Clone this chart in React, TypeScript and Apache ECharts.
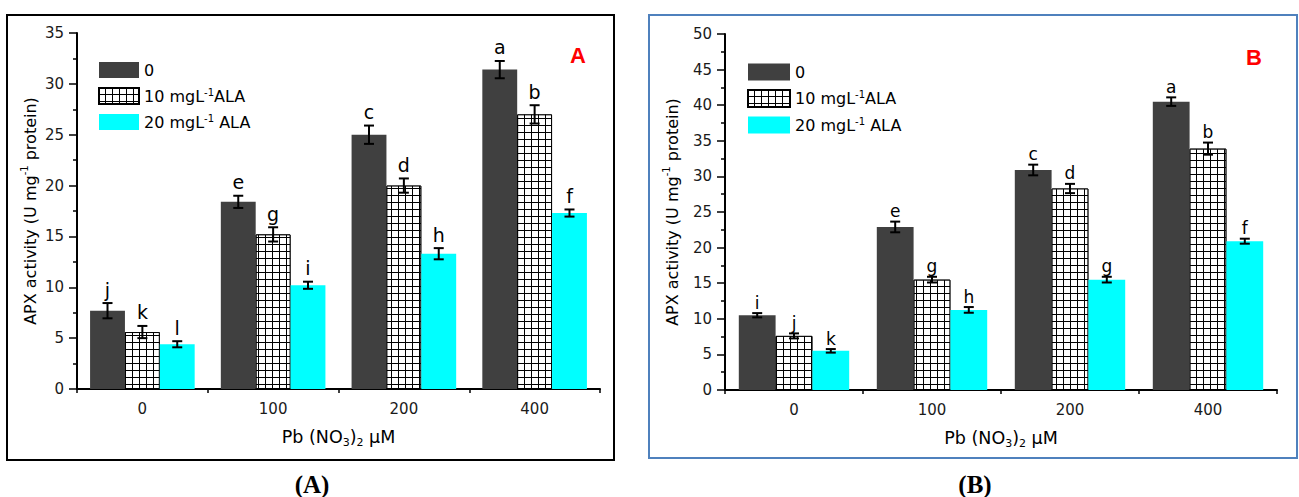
import React, { useEffect, useRef } from 'react';
import * as echarts from 'echarts';

// ---------- data ----------
const categories = ['0', '100', '200', '400'];
const seriesNames = ['0', '10 mgL-1ALA', '20 mgL-1 ALA'];
const legendLabels = ['0', '10 mgL{sup|-1}ALA', '20 mgL{sup|-1} ALA'];

// Panel A
const aControl = [7.7, 18.4, 25.0, 31.4];
const aControlErr = [0.75, 0.6, 0.9, 0.85];
const aControlLetters = ['j', 'e', 'c', 'a'];
const aAla10 = [5.6, 15.2, 20.0, 27.0];
const aAla10Err = [0.6, 0.7, 0.7, 0.9];
const aAla10Letters = ['k', 'g', 'd', 'b'];
const aAla20 = [4.4, 10.2, 13.3, 17.3];
const aAla20Err = [0.3, 0.35, 0.55, 0.35];
const aAla20Letters = ['l', 'i', 'h', 'f'];

// Panel B
const bControl = [10.5, 22.9, 30.9, 40.5];
const bControlErr = [0.3, 0.75, 0.75, 0.6];
const bControlLetters = ['i', 'e', 'c', 'a'];
const bAla10 = [7.6, 15.5, 28.3, 33.9];
const bAla10Err = [0.35, 0.4, 0.65, 0.85];
const bAla10Letters = ['j', 'g', 'd', 'b'];
const bAla20 = [5.5, 11.25, 15.5, 20.9];
const bAla20Err = [0.25, 0.4, 0.4, 0.35];
const bAla20Letters = ['k', 'h', 'g', 'f'];

const yTitle = 'APX activity (U mg{sup|-1} protein)';
const xTitle = 'Pb (NO{sub|3}){sub|2} μM';

// ---------- styles ----------
const FONT = 'DejaVu Sans';
const DARK = '#404040';
const CYAN = '#00ffff';

const hatchStyle = {
  color: '#000',
  borderColor: '#000',
  borderWidth: 1,
  decal: {
    symbol: 'rect',
    symbolSize: 1,
    symbolKeepAspect: false,
    color: '#ffffff',
    dashArrayX: [6, 1],
    dashArrayY: [6, 1],
    rotation: 0,
  },
};

const barStyles = [{ color: DARK }, hatchStyle, { color: CYAN }];

function barSeries(xi: number, yi: number, arrays: number[][]) {
  return arrays.map((d, k) => ({
    type: 'bar',
    name: seriesNames[k],
    xAxisIndex: xi,
    yAxisIndex: yi,
    data: d,
    barGap: '0%',
    barCategoryGap: '20%',
    itemStyle: barStyles[k],
    z: 2,
  }));
}

function errSeries(
  xi: number,
  yi: number,
  values: number[],
  errs: number[],
  letters: string[],
  offset: number,
  fontSize: number,
  gap: number,
) {
  return {
    type: 'custom',
    xAxisIndex: xi,
    yAxisIndex: yi,
    z: 5,
    silent: true,
    data: values.map((v, i) => [i, v, errs[i]]),
    renderItem: (params: any, api: any) => {
      const i = api.value(0);
      const v = api.value(1);
      const e = api.value(2);
      const band = api.size([1, 0])[0];
      const bw = (band * 0.8) / 3;
      const cx = api.coord([i, v])[0] + offset * bw;
      const yt = api.coord([i, v + e])[1];
      const yb = api.coord([i, v - e])[1];
      const cap = 5;
      const ls = { stroke: '#000', lineWidth: 2 };
      return {
        type: 'group',
        children: [
          { type: 'line', shape: { x1: cx, y1: yt, x2: cx, y2: yb }, style: ls },
          { type: 'line', shape: { x1: cx - cap, y1: yt, x2: cx + cap, y2: yt }, style: ls },
          { type: 'line', shape: { x1: cx - cap, y1: yb, x2: cx + cap, y2: yb }, style: ls },
          {
            type: 'text',
            x: cx,
            y: yt - gap,
            style: {
              text: letters[params.dataIndex],
              fill: '#000',
              fontSize,
              fontFamily: FONT,
              align: 'center',
              verticalAlign: 'bottom',
            },
          },
        ],
      };
    },
  };
}

const supRich = {
  sup: { fontSize: 10, verticalAlign: 'top', fontFamily: FONT, color: '#000' },
  sub: { fontSize: 11, verticalAlign: 'bottom', fontFamily: FONT, color: '#000' },
};

function yAxis(gi: number, max: number, nameGap: number) {
  return {
    gridIndex: gi,
    type: 'value',
    min: 0,
    max,
    interval: 5,
    axisLine: { show: true, lineStyle: { color: '#000', width: 2 } },
    axisTick: { show: true, length: 8, lineStyle: { color: '#000', width: 1.5 } },
    minorTick: { show: true, splitNumber: 2, length: 4, lineStyle: { color: '#000', width: 1.5 } },
    splitLine: { show: false },
    axisLabel: { color: '#1a1a1a', fontSize: 15, fontFamily: FONT, margin: 13 },
    name: yTitle,
    nameLocation: 'middle',
    nameGap,
    nameTextStyle: { fontSize: 16, fontFamily: FONT, color: '#000', lineHeight: 22, rich: supRich },
  };
}

function xAxes(gi: number) {
  return [
    {
      gridIndex: gi,
      type: 'category',
      data: categories,
      position: 'bottom',
      axisLine: { lineStyle: { color: '#000', width: 2 } },
      axisTick: { alignWithLabel: true, length: 7, lineStyle: { color: '#000', width: 1.5 } },
      axisLabel: { color: '#1a1a1a', fontSize: 15, fontFamily: FONT, margin: 12 },
      name: xTitle,
      nameLocation: 'middle',
      nameGap: 37,
      nameTextStyle: { fontSize: 17.5, fontFamily: FONT, color: '#000', lineHeight: 22, rich: supRich },
    },
    {
      gridIndex: gi,
      type: 'category',
      data: categories,
      position: 'bottom',
      axisLine: { show: false },
      axisTick: { show: true, length: 4, lineStyle: { color: '#000', width: 1.5 } },
      axisLabel: { show: false },
    },
  ];
}

function legend(left: number, top: number, w: number, h: number) {
  return {
    left,
    top,
    padding: 0,
    orient: 'vertical',
    data: seriesNames,
    icon: 'rect',
    itemWidth: w,
    itemHeight: h,
    itemGap: 8,
    itemTextGap: 6,
    selectedMode: false,
    formatter: (name: string) => legendLabels[seriesNames.indexOf(name)],
    textStyle: {
      fontSize: 16,
      fontFamily: FONT,
      color: '#000',
      lineHeight: 18,
      rich: { sup: { fontSize: 10, verticalAlign: 'top', fontFamily: FONT, color: '#000' } },
    },
  };
}

const option: any = {
  animation: false,
  backgroundColor: '#fff',
  textStyle: { fontFamily: FONT },
  grid: [
    { left: 77, top: 33, width: 523, height: 356 },
    { left: 725, top: 34, width: 552, height: 356 },
  ],
  xAxis: [...xAxes(0), ...xAxes(1)],
  yAxis: [yAxis(0, 35, 36), yAxis(1, 50, 42)],
  legend: [legend(98, 61, 40, 16), legend(747, 63, 42, 17)],
  series: [
    ...barSeries(0, 0, [aControl, aAla10, aAla20]),
    ...barSeries(2, 1, [bControl, bAla10, bAla20]),
    errSeries(0, 0, aControl, aControlErr, aControlLetters, -1, 19, 4),
    errSeries(0, 0, aAla10, aAla10Err, aAla10Letters, 0, 19, 4),
    errSeries(0, 0, aAla20, aAla20Err, aAla20Letters, 1, 19, 4),
    errSeries(2, 1, bControl, bControlErr, bControlLetters, -1, 17, 2),
    errSeries(2, 1, bAla10, bAla10Err, bAla10Letters, 0, 17, 2),
    errSeries(2, 1, bAla20, bAla20Err, bAla20Letters, 1, 17, 2),
  ],
  graphic: [
    {
      type: 'rect',
      silent: true,
      shape: { x: 7, y: 15, width: 607, height: 445 },
      style: { fill: 'none', stroke: '#000', lineWidth: 2 },
    },
    {
      type: 'rect',
      silent: true,
      shape: { x: 649, y: 15, width: 648, height: 443 },
      style: { fill: 'none', stroke: '#4f81bd', lineWidth: 2 },
    },
    {
      type: 'text',
      x: 578,
      y: 55,
      style: { text: 'A', fill: '#ff0000', font: 'bold 22px "Liberation Sans"', align: 'center', verticalAlign: 'middle' },
    },
    {
      type: 'text',
      x: 1254,
      y: 57,
      style: { text: 'B', fill: '#ff0000', font: 'bold 22px "Liberation Sans"', align: 'center', verticalAlign: 'middle' },
    },
    {
      type: 'text',
      x: 312,
      y: 484,
      style: { text: '(A)', fill: '#000', font: 'bold 25px "Liberation Serif"', align: 'center', verticalAlign: 'middle' },
    },
    {
      type: 'text',
      x: 975,
      y: 484,
      style: { text: '(B)', fill: '#000', font: 'bold 25px "Liberation Serif"', align: 'center', verticalAlign: 'middle' },
    },
  ],
};

export default function App() {
  const ref = useRef<HTMLDivElement>(null);
  useEffect(() => {
    const chart = echarts.init(ref.current!, null, { renderer: 'svg' });
    chart.setOption(option);
    return () => chart.dispose();
  }, []);
  return (
    <div
      ref={ref}
      style={{ position: 'fixed', left: 0, top: 0, width: 1299, height: 497, background: '#fff' }}
    />
  );
}
